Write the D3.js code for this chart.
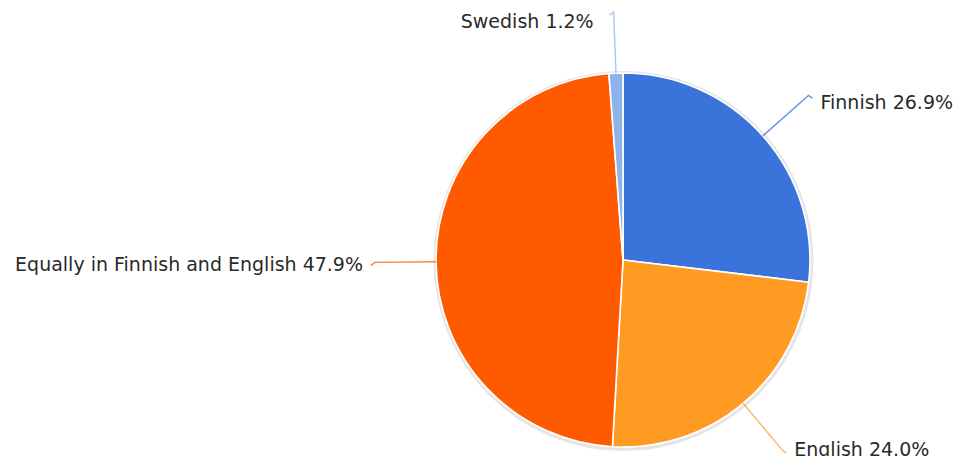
<!DOCTYPE html>
<html>
<head>
<meta charset="utf-8">
<script src="https://cdn.jsdelivr.net/npm/d3@7"></script>
<style>
  html, body { margin: 0; padding: 0; background: #fff; }
  svg { display: block; }
</style>
</head>
<body>
<svg id="chart" width="957" height="456"></svg>
<script>
// Language used, share of respondents (%)
const categories = ["Finnish", "English", "Equally in Finnish and English", "Swedish"];
const values = [26.9, 24.0, 47.9, 1.2];
const colors = ["#3a73da", "#ff9a22", "#ff5a00", "#8cb4ea"];

const W = 957, H = 456;
const cx = 623, cy = 260, R = 187, Rline = 248;

const svg = d3.select("#chart");
const g = svg.append("g").attr("transform", `translate(${cx},${cy})`);

const data = categories.map((c, i) => ({ name: c, value: values[i], color: colors[i] }));

const pie = d3.pie().value(d => d.value).sort(null);
const arcs = pie(data);
const arc = d3.arc().innerRadius(0).outerRadius(R);

// soft halo round the pie
g.append("circle")
  .attr("r", R + 1.5)
  .attr("cx", 0.5).attr("cy", 1)
  .attr("fill", "none")
  .attr("stroke", "rgba(0,0,0,0.10)")
  .attr("stroke-width", 3);

g.selectAll("path.slice")
  .data(arcs)
  .join("path")
  .attr("class", "slice")
  .attr("d", arc)
  .attr("fill", d => d.data.color)
  .attr("stroke", "#fff")
  .attr("stroke-width", 1.6)
  .attr("stroke-linejoin", "round");

// leader lines and labels
const pt = (a, r) => [r * Math.sin(a), -r * Math.cos(a)];

arcs.forEach(d => {
  const mid = (d.startAngle + d.endAngle) / 2;
  const s = Math.sin(mid), c = Math.cos(mid);
  const p0 = pt(mid, R);
  const p1 = pt(mid, Rline);
  const right = s > 0.01;
  const dir = right ? 1 : -1;
  const hook = [p1[0] + dir * 4, p1[1] + 3];

  g.append("path")
    .attr("d", d3.line()([p0, p1, hook]))
    .attr("fill", "none")
    .attr("stroke", d.data.color)
    .attr("stroke-opacity", 0.75)
    .attr("stroke-width", 1.4);

  const dx = Math.abs(s) < 0.2 ? 20 : 12;
  const dy = c > 0 ? 2 + 7.5 * c : 2 + 3.5 * c;
  const label = `${d.data.name} ${d.data.value.toFixed(1)}%`;
  g.append("text")
    .attr("x", p1[0] + dir * dx)
    .attr("y", p1[1] + dy)
    .attr("dy", "0.35em")
    .attr("text-anchor", right ? "start" : "end")
    .attr("font-family", "DejaVu Sans, sans-serif")
    .attr("font-size", 19)
    .attr("fill", "#2a2a2a")
    .text(label);
});
</script>
</body>
</html>
